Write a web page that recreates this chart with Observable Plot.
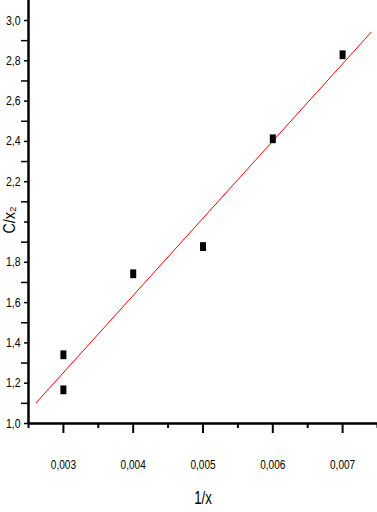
<!DOCTYPE html>
<html>
<head>
<meta charset="utf-8">
<script src="https://cdn.jsdelivr.net/npm/d3@7"></script>
<script src="https://cdn.jsdelivr.net/npm/@observablehq/plot@0.6"></script>
<style>
  html, body { margin: 0; padding: 0; background: #fff; }
  #chart svg { display: block; font-family: "Liberation Sans", Arial, sans-serif; }
</style>
</head>
<body>
<div id="chart"></div>
<script>
// Data
const xMajorTicks = [0.003, 0.004, 0.005, 0.006, 0.007];
const xMinorTicks = [0.0025, 0.0035, 0.0045, 0.0055, 0.0065, 0.0075];
const yMajorTicks = [1.0, 1.2, 1.4, 1.6, 1.8, 2.0, 2.2, 2.4, 2.6, 2.8, 3.0];
const yMinorTicks = [1.1, 1.3, 1.5, 1.7, 1.9, 2.1, 2.3, 2.5, 2.7, 2.9];
const pointX = [0.003, 0.003, 0.004, 0.005, 0.006, 0.007];
const pointY = [1.341, 1.167, 1.743, 1.878, 2.413, 2.830];
const fitX = [0.00261, 0.00741];
const fitY = [1.103, 2.942];
const xLabel = "1/x";
const yLabel = "C/x₂";

const points = pointX.map((x, i) => ({x, y: pointY[i]}));
const fit = fitX.map((x, i) => ({x, y: fitY[i]}));
const comma = (digits) => (d) => d3.format(`.${digits}f`)(d).replace(".", ",");

const rectSymbol = {
  draw(context) {
    context.moveTo(-3, -4.4);
    context.lineTo(3, -4.4);
    context.lineTo(3, 4.4);
    context.lineTo(-3, 4.4);
    context.closePath();
  }
};

const plot = Plot.plot({
  width: 377,
  height: 512,
  marginLeft: 28,
  marginRight: 0,
  marginTop: 0,
  marginBottom: 89,
  style: {fontSize: "12px", color: "#000", background: "#fff"},
  x: {domain: [0.0025, 0.0075]},
  y: {domain: [1, 3.0993]},
  marks: [
    Plot.axisX({ticks: xMinorTicks, tickSize: 5, tickFormat: () => "", label: null, strokeWidth: 2}),
    Plot.axisX({ticks: xMajorTicks, tickSize: 10, tickPadding: 27, tickFormat: comma(3), fontSize: 12,
      label: xLabel, labelAnchor: "center", labelOffset: 80, labelArrow: "none", strokeWidth: 2}),
    Plot.axisY({ticks: yMinorTicks, tickSize: 7, tickFormat: () => "", label: null, strokeWidth: 1.5}),
    Plot.axisY({ticks: yMajorTicks, tickSize: 4, tickPadding: 4, fontSize: 12.5,
      tickFormat: (d) => Math.abs(d - 2) < 1e-9 ? "" : comma(1)(d),
      label: yLabel, labelAnchor: "center", labelOffset: 25, labelArrow: "none", strokeWidth: 1.5}),
    Plot.ruleX([0.0025], {stroke: "#000", strokeWidth: 2.5}),
    Plot.ruleY([1], {stroke: "#000", strokeWidth: 2.5}),
    Plot.line(fit, {x: "x", y: "y", stroke: "#ff0000", strokeWidth: 1}),
    Plot.dot(points, {x: "x", y: "y", symbol: rectSymbol, fill: "#000", stroke: null})
  ]
});
document.getElementById("chart").appendChild(plot);

// narrow (Arial Narrow-like) text rendering
function narrow(t, sx) {
  const tr = t.getAttribute("transform") || "";
  t.setAttribute("transform", (tr + ` scale(${sx},1)`).trim());
}
plot.querySelectorAll("g[aria-label='x-axis tick label'] text, g[aria-label='y-axis tick label'] text").forEach(t => narrow(t, 0.84));
plot.querySelectorAll("g[aria-label='x-axis label'] text").forEach(t => { t.setAttribute("font-size", "19"); narrow(t, 0.7); });
plot.querySelectorAll("g[aria-label='y-axis label'] text").forEach(t => {
  t.setAttribute("font-size", "16");
  const tr = t.getAttribute("transform") || "";
  t.setAttribute("transform", (tr + " translate(-8,0) scale(0.9,1)").trim());
});
</script>
</body>
</html>
